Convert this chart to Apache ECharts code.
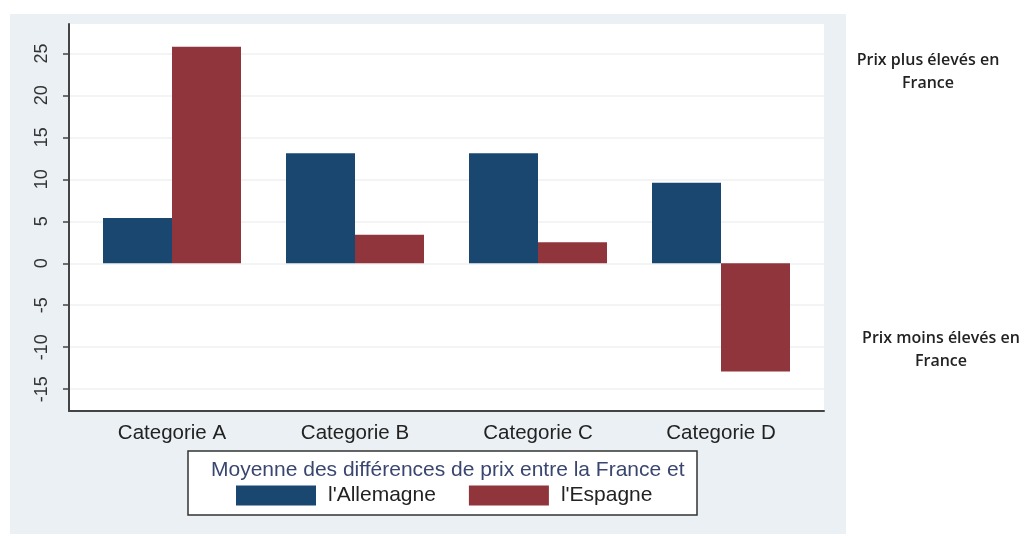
<!DOCTYPE html>
<html>
<head>
<meta charset="utf-8">
<script src="https://cdn.jsdelivr.net/npm/echarts@6/dist/echarts.min.js"></script>
<style>html,body{margin:0;padding:0;background:#fff;}#c{width:1026px;height:534px;}</style>
</head>
<body>
<div id="c"></div>
<script>
const categories = ['Categorie A', 'Categorie B', 'Categorie C', 'Categorie D'];
const allemagne = [5.4, 13.1, 13.1, 9.6];
const espagne = [25.8, 3.4, 2.5, -12.9];
const seriesNames = ["l'Allemagne", "l'Espagne"];
const yTicks = [-15, -10, -5, 0, 5, 10, 15, 20, 25];
const legendTitle = 'Moyenne des différences de prix entre la France et';
const noteHigh = 'Prix plus élevés en\nFrance';
const noteLow = 'Prix moins élevés en\nFrance';

const YMIN = -17.6, YMAX = 28.5;
const chart = echarts.init(document.getElementById('c'), null, {renderer: 'canvas'});
const font = 'Liberation Sans, Arial, sans-serif';

chart.setOption({
  animation: false,
  backgroundColor: '#ffffff',
  title: {
    text: legendTitle,
    left: 206, top: 455,
    textStyle: {fontFamily: font, fontSize: 21, fontWeight: 'normal', color: '#3a4670'}
  },
  legend: {
    data: seriesNames,
    left: 236, top: 485,
    padding: 0,
    itemWidth: 80, itemHeight: 20,
    itemGap: 33,
    icon: 'rect',
    textStyle: {fontFamily: font, fontSize: 21, color: '#222', padding: [0, 0, 0, 7]}
  },
  graphic: [
    {type: 'rect', z: -10, silent: true, shape: {x: 10, y: 14, width: 836, height: 520}, style: {fill: '#eaf0f3'}},
    {type: 'rect', z: -5, silent: true, shape: {x: 188, y: 451, width: 509, height: 64}, style: {fill: '#ffffff', stroke: '#333', lineWidth: 1.5}},
    {type: 'text', x: 928, y: 49, style: {text: noteHigh, font: '600 16px "Open Sans", sans-serif', fill: '#222', align: 'center', lineHeight: 23}},
    {type: 'text', x: 941, y: 327, style: {text: noteLow, font: '600 16px "Open Sans", sans-serif', fill: '#222', align: 'center', lineHeight: 23}}
  ],
  grid: [
    {left: 69, right: 202, top: 24, bottom: 123, show: true, backgroundColor: '#ffffff', borderWidth: 0},
    {left: 80.5, width: 732, top: 24, bottom: 123}
  ],
  xAxis: [
    {type: 'value', gridIndex: 0, min: 0, max: 1, position: 'bottom',
     axisLine: {show: true, onZero: false, lineStyle: {color: '#444', width: 2}},
     axisTick: {show: false}, axisLabel: {show: false}, splitLine: {show: false}},
    {type: 'category', gridIndex: 1, data: categories,
     axisLine: {show: false}, axisTick: {show: false},
     axisLabel: {fontFamily: font, fontSize: 20.5, color: '#222', margin: 12}}
  ],
  yAxis: [
    {type: 'value', gridIndex: 0, min: YMIN, max: YMAX,
     axisLine: {show: true, lineStyle: {color: '#444', width: 2}},
     axisTick: {show: true, length: 6, customValues: yTicks, lineStyle: {color: '#444', width: 1.5}},
     axisLabel: {customValues: yTicks, rotate: 90, fontFamily: font, fontSize: 18, color: '#333', margin: 18},
     splitLine: {show: true, lineStyle: {color: '#eef1f3', width: 1.5}}},
    {type: 'value', gridIndex: 1, min: YMIN, max: YMAX, show: false, splitLine: {show: false}}
  ],
  series: [
    {name: seriesNames[0], type: 'bar', xAxisIndex: 1, yAxisIndex: 1, data: allemagne,
     barWidth: 69, barGap: '0%', itemStyle: {color: '#1a476f'}},
    {name: seriesNames[1], type: 'bar', xAxisIndex: 1, yAxisIndex: 1, data: espagne,
     barWidth: 69, barGap: '0%', itemStyle: {color: '#90353b'}}
  ]
});
</script>
</body>
</html>
